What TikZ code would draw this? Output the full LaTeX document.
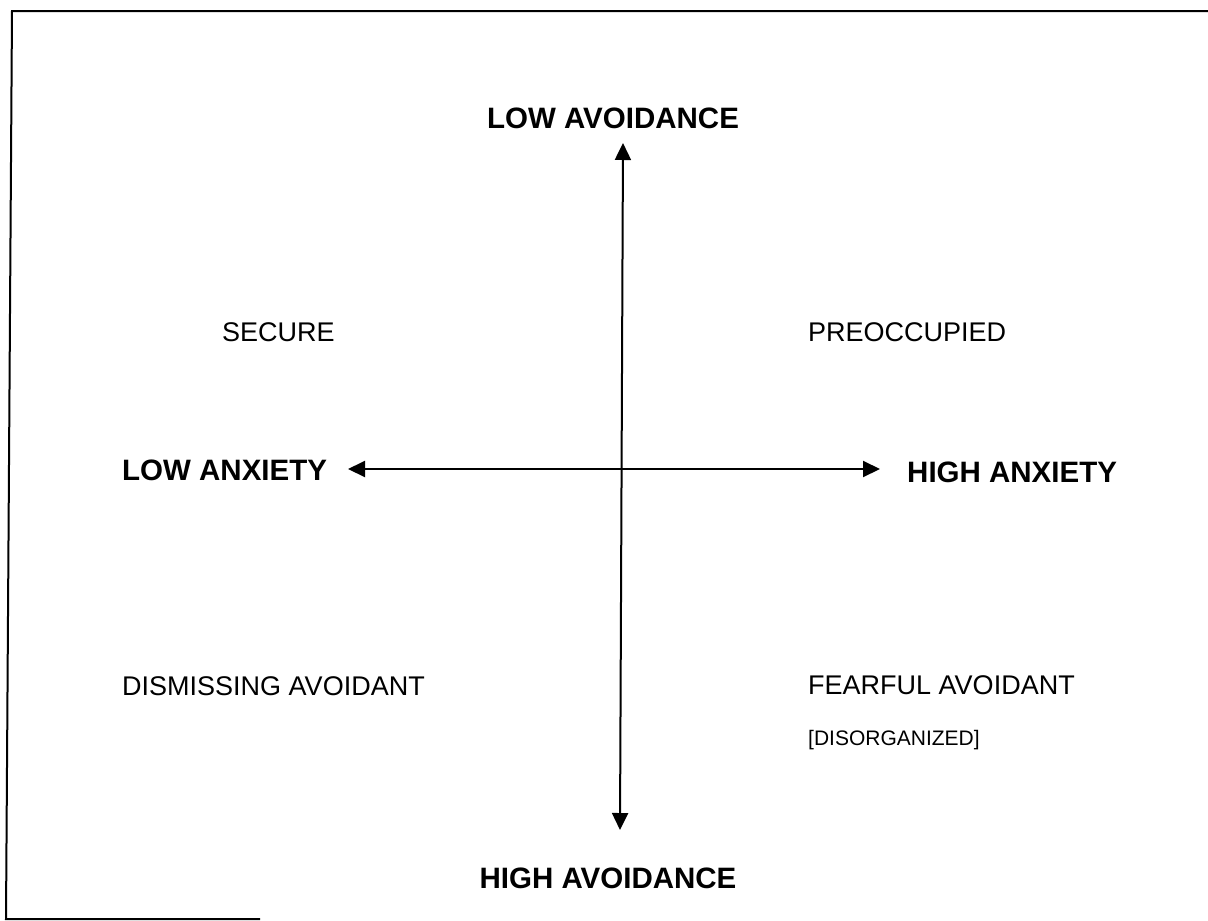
\documentclass[tikz,border=0pt]{standalone}
\usepackage{fontspec}
\setmainfont{Liberation Sans}
\usetikzlibrary{arrows.meta}
\begin{document}
\begin{tikzpicture}[x=1pt,y=-1pt,
  frameline/.style={line width=2pt,black},
  axisline/.style={line width=2pt,black,{Triangle[length=17pt,width=16pt]}-{Triangle[length=17pt,width=16pt]}},
  axislabel/.style={font=\fontsize{29.5}{34}\selectfont\bfseries,inner sep=0pt,text height=21.1pt,text depth=0pt},
  quadlabel/.style={font=\fontsize{27}{32}\selectfont,inner sep=0pt,anchor=west,text height=19.3pt,text depth=0pt},
  smalllabel/.style={font=\fontsize{21}{25}\selectfont,inner sep=0pt,anchor=west,text height=15pt,text depth=0pt}]
\useasboundingbox (0,0) rectangle (1208,921);
\fill[white] (0,0) rectangle (1208,921);
% frame
\coordinate (tr) at (1208,11);
\coordinate (tl) at (12,11);
\coordinate (bl) at (6,919);
\coordinate (bm) at (260,919);
\draw[frameline] (tr) -- (tl) -- (bl) -- (bm);
% axes
\coordinate (vtop) at (623,143);
\coordinate (vbot) at (620,830);
\coordinate (hleft) at (348,469);
\coordinate (hright) at (880,469);
\draw[axisline] (vtop) -- (vbot);
\draw[axisline] (hleft) -- (hright);
% axis labels
\node[axislabel] (lowavoid) at (613,118) {LOW AVOIDANCE};
\node[axislabel] (highavoid) at (608,878) {HIGH AVOIDANCE};
\node[axislabel,anchor=west] (lowanx) at (122,470) {LOW ANXIETY};
\node[axislabel,anchor=west] (highanx) at (907,472) {HIGH ANXIETY};
% quadrant labels
\node[quadlabel] (secure) at (222,332) {SECURE};
\node[quadlabel] (preocc) at (808,332) {PREOCCUPIED};
\node[quadlabel] (dismiss) at (122,686) {DISMISSING AVOIDANT};
\node[quadlabel] (fearful) at (808,685) {FEARFUL AVOIDANT};
\node[smalllabel] (disorg) at (808,738) {[DISORGANIZED]};
\end{tikzpicture}
\end{document}
